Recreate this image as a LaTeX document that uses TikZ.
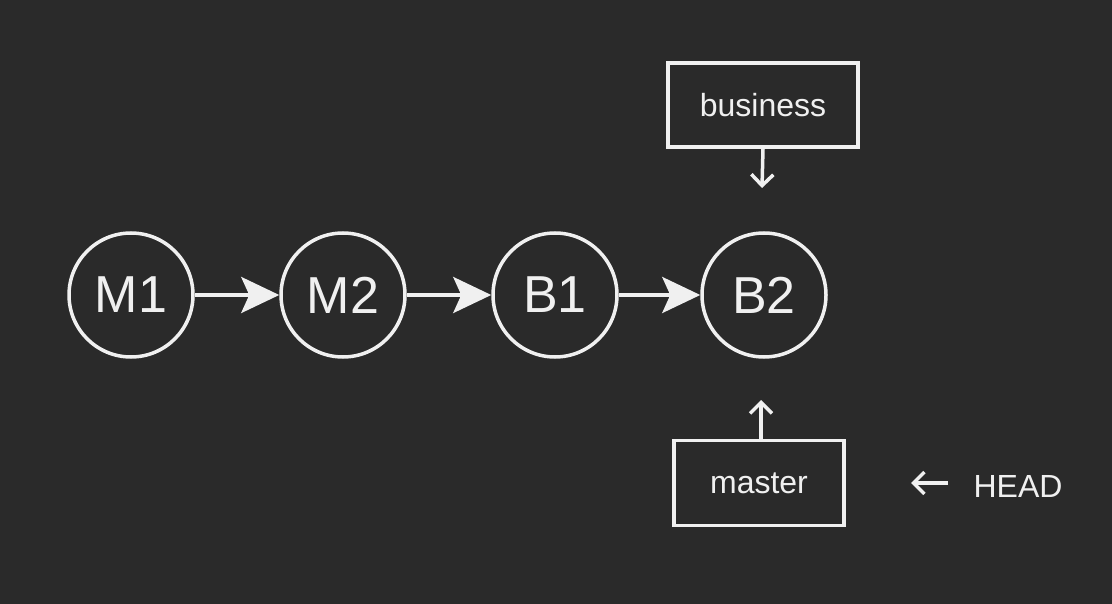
\documentclass[tikz,border=0pt]{standalone}
\usepackage{fontspec}
\setmainfont{Liberation Sans}
\usetikzlibrary{arrows.meta}
\definecolor{bg}{HTML}{2A2A2A}
\definecolor{fg}{HTML}{F0F0F0}
\begin{document}
\begin{tikzpicture}[x=1pt,y=-1pt,
  commit/.style={circle, draw=fg, line width=3.5pt, minimum size=124pt, inner sep=0pt,
    text=fg, font=\fontsize{52}{52}\selectfont},
  refbox/.style={rectangle, draw=fg, line width=3.5pt, inner sep=0pt, text=fg,
    font=\fontsize{32}{32}\selectfont},
  bigarrow/.style={draw=fg, line width=3.5pt, -{Stealth[length=38pt, width=36pt, inset=8pt]}},
  smallarrow/.style={draw=fg, line width=3.5pt, -{Straight Barb[length=11pt, width=22pt]}}
]
\fill[bg] (0,0) rectangle (1112,604);
\node[commit] (m1) at (131,295) {M1};
\node[commit] (m2) at (343,295) {M2};
\node[commit] (b1) at (555,295) {B1};
\node[commit] (b2) at (764,295) {B2};
\node[refbox, minimum width=190pt, minimum height=84pt] (business) at (763,105) {business};
\node[refbox, minimum width=170pt, minimum height=85pt] (master) at (759,483) {master};
\node[text=fg, font=\fontsize{32}{32}\selectfont] (head) at (1018,486) {HEAD};
\coordinate (bizend) at (762,188);
\coordinate (mastend) at (761,400);
\coordinate (headend) at (911,483);
\draw[bigarrow] (m1) -- (m2);
\draw[bigarrow] (m2) -- (b1);
\draw[bigarrow] (b1) -- (b2);
\draw[smallarrow] (business.south) -- (bizend);
\draw[smallarrow] (master.north -| mastend) -- (mastend);
\draw[smallarrow] (head.west |- headend) ++(-22,0) -- (headend);
\end{tikzpicture}
\end{document}
